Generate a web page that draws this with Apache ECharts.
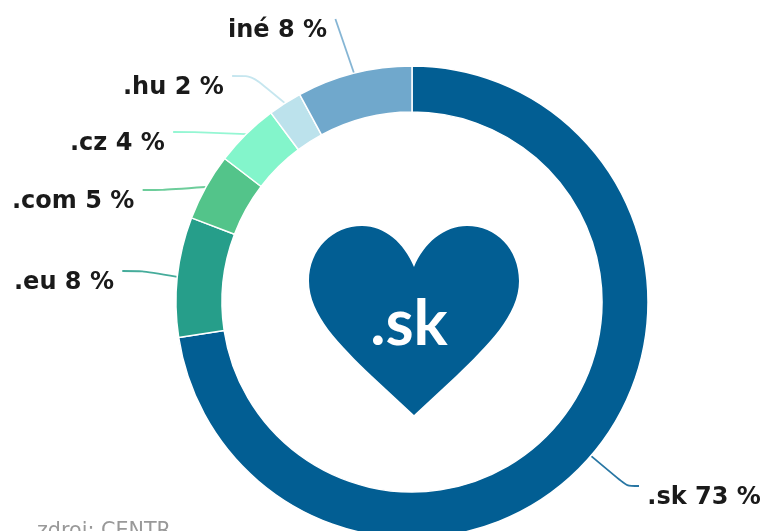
<!DOCTYPE html>
<html><head><meta charset="utf-8">
<style>html,body{margin:0;padding:0;background:#fff}#c{width:778px;height:531px}</style>
<script src="https://cdn.jsdelivr.net/npm/echarts@6/dist/echarts.min.js"></script></head>
<body><div id="c"></div>
<script>
const categories = ['.sk', '.eu', '.com', '.cz', '.hu', 'iné'];
const shares = [72.6, 8.2, 4.6, 4.4, 2.3, 7.9];
const colors = ['#025e93', '#269e8a', '#53c48a', '#83f5cb', '#bce2ec', '#70a8cc'];
const sourceNote = 'zdroj: CENTR';
const centerText = '.sk';
const labelAnchors = [[639, 486], [14, 271], [12, 190], [70, 132], [123, 76], [228, 19]];
const font = '"DejaVu Sans", sans-serif';
const heartPath = 'M414 415 L372 376 C340 345 309 315 309 281 C309 249 333 226 362 226 C385 226 404 243 414 267 C424 243 444 226 467 226 C496 226 519 249 519 281 C519 315 488 345 456 376 Z';
echarts.graphic.registerShape('heart', echarts.graphic.extendPath(heartPath, {}));
const chart = echarts.init(document.getElementById('c'), null, {renderer: 'canvas'});
chart.setOption({
  animation: false,
  series: [{
    type: 'pie', center: [412, 302], radius: [190, 236], startAngle: 90, clockwise: true,
    itemStyle: {borderColor: '#fff', borderWidth: 1.5},
    label: {
      formatter: p => {
        const t = p.name + ' ' + Math.round(p.value) + ' %';
        return '\u00a0\n' + (p.dataIndex === 0 ? '\u00a0' + t : t + '\u00a0');
      },
      fontFamily: font, fontWeight: 'bold', fontSize: 24, lineHeight: 24, color: '#1a1a1a', overflow: 'none', alignTo: 'none'
    },
    labelLine: {show: true, smooth: 0.25, length: 30, length2: 20, minTurnAngle: 140, lineStyle: {width: 1.8, opacity: 0.85}},
    labelLayout: function (p) {
      const a = labelAnchors[p.dataIndex];
      return {x: a[0], y: a[1], align: 'left', verticalAlign: 'middle'};
    },
    data: categories.map((n, i) => ({name: n, value: shares[i], itemStyle: {color: colors[i]}}))
  }],
  graphic: [
    {type: 'heart', style: {fill: '#025e93'}},
    {type: 'text', x: 409, y: 324, style: {text: centerText, fill: '#fff', font: 'bold 64px Lato, sans-serif', align: 'center', verticalAlign: 'middle'}},
    {type: 'text', x: 37, y: 532, style: {text: sourceNote, fill: '#999', font: '20.7px "DejaVu Sans", sans-serif', align: 'left', verticalAlign: 'middle'}}
  ]
});
</script></body></html>
